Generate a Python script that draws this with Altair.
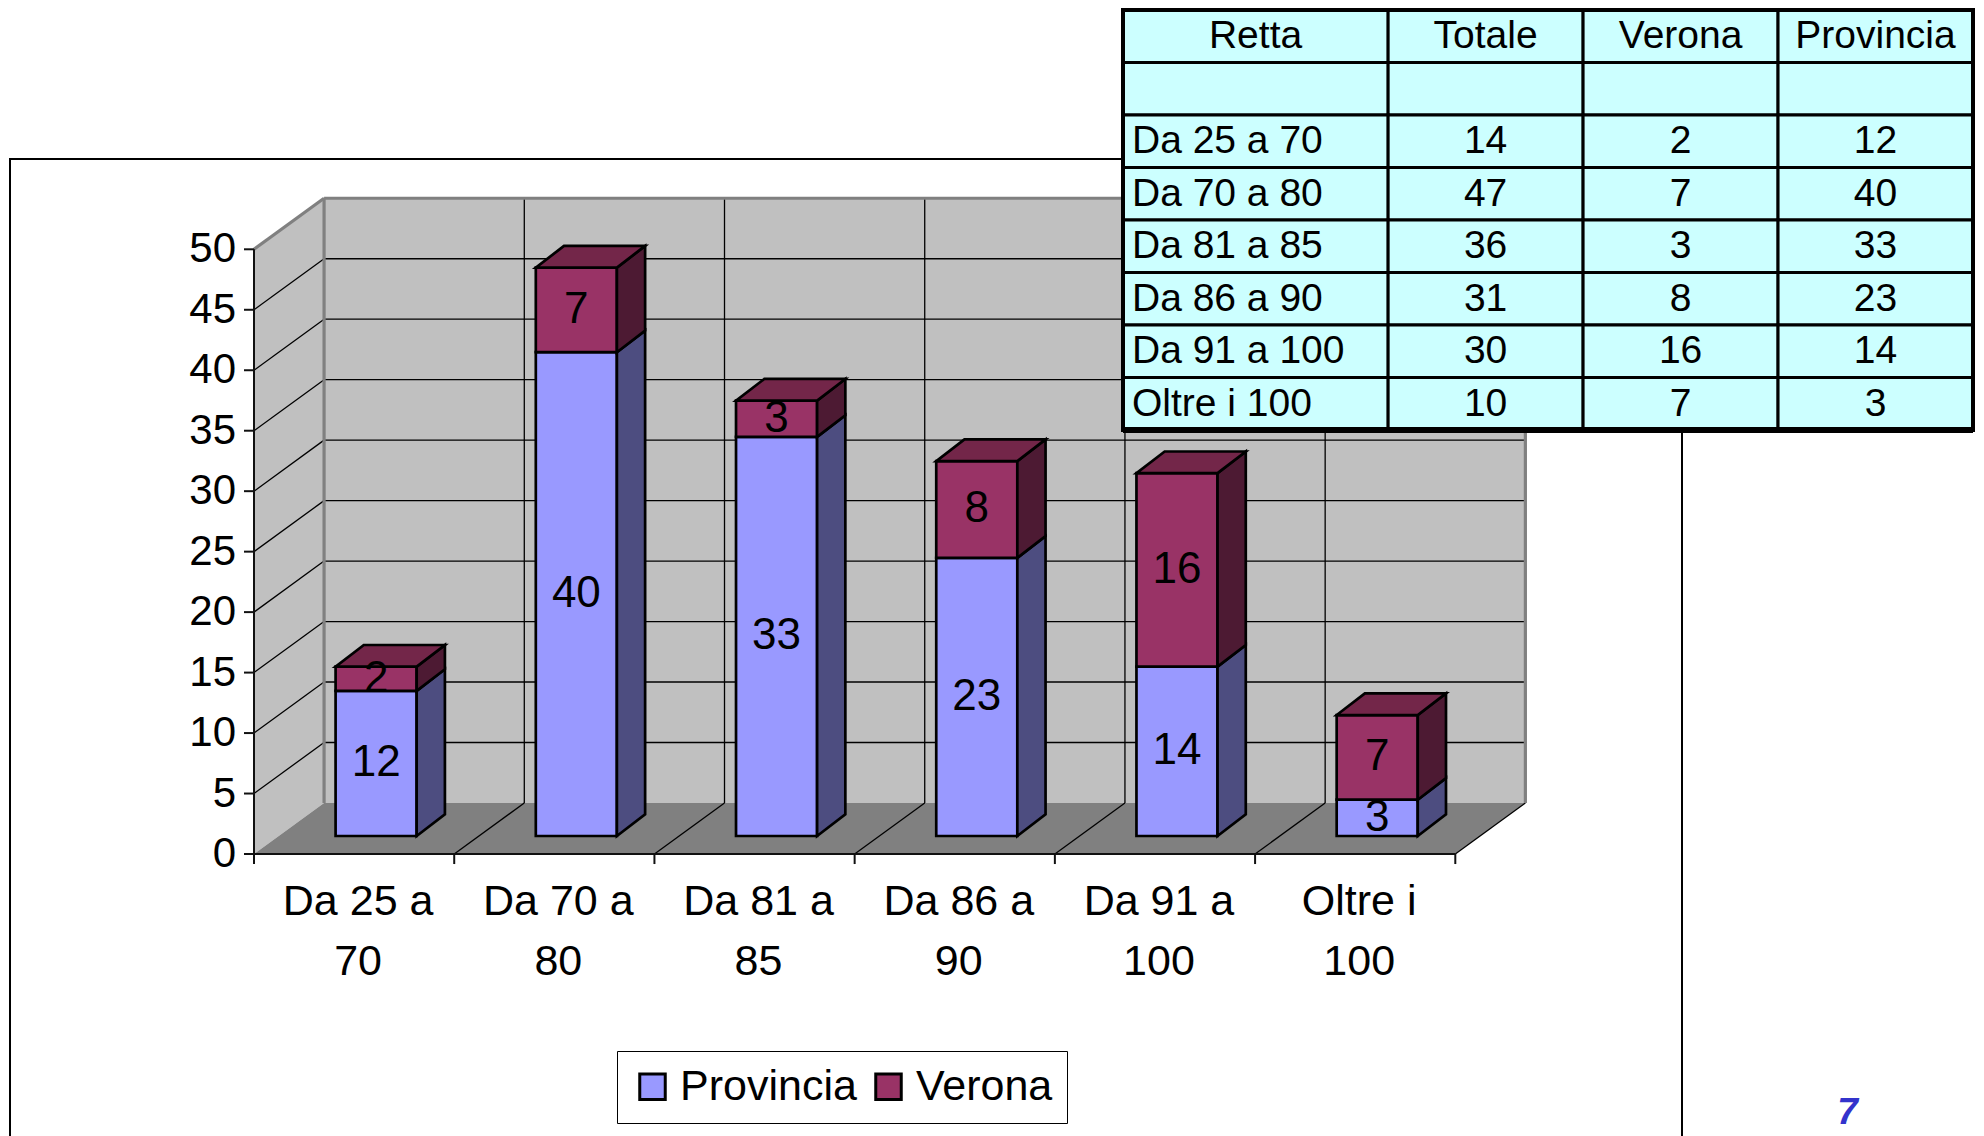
import altair as alt
import pandas as pd

# ---------------- data ----------------
categories = ["Da 25 a 70", "Da 70 a 80", "Da 81 a 85", "Da 86 a 90", "Da 91 a 100", "Oltre i 100"]
provincia = [12, 40, 33, 23, 14, 3]
verona = [2, 7, 3, 8, 16, 7]
totale = [14, 47, 36, 31, 30, 10]
series_names = ["Provincia", "Verona"]
table_header = ["Retta", "Totale", "Verona", "Provincia"]
y_ticks = [0, 5, 10, 15, 20, 25, 30, 35, 40, 45, 50]
page_number = "7"

# ---------------- layout / style ----------------
W, H = 1968, 1128
FONT = "Liberation Sans"
XS = alt.Scale(domain=[0, 6], range=[246, 1447.3], nice=False, zero=False)
YS = alt.Scale(domain=[0, 50], range=[846, 241.3], nice=False, zero=False)
DX, DY = 0.35, 4.22          # depth of the 3D box (category units, value units)
F0 = 0.353                   # depth fraction of bar front plane
BDX, BDY = 0.141, 1.79       # depth of each bar
BAR_C, BAR_HW = 0.61, 0.2025
YB = F0 * DY
TICK_X, TICK_Y = 0.05, 0.83

FRONT = {"Provincia": "#9999ff", "Verona": "#993366"}
SIDE = {"Provincia": "#4d4d80", "Verona": "#4d1a33"}
TOP = {"Provincia": "#7373bf", "Verona": "#732649"}


def X(f, **k):
    return alt.X(f, type="quantitative", scale=XS, axis=None, **k)


def Y(f, **k):
    return alt.Y(f, type="quantitative", scale=YS, axis=None, **k)


one = pd.DataFrame({"a": [0]})

# chart border (decoration)
border = alt.Chart(one).mark_rect(fillOpacity=0, stroke="black", strokeWidth=2).encode(
    x=alt.value(2), x2=alt.value(1674), y=alt.value(151), y2=alt.value(1160))

# walls and floor
back = alt.Chart(pd.DataFrame([{"x": DX, "x2": 6 + DX, "y": DY, "y2": 50 + DY}])).mark_rect(
    color="#c0c0c0").encode(x=X("x"), x2="x2", y=Y("y"), y2="y2")
left = alt.Chart(pd.DataFrame([{"x": 0, "y": 0, "y2": 50}, {"x": DX, "y": DY, "y2": 50 + DY}])).mark_area(
    color="#c0c0c0").encode(x=X("x"), y=Y("y"), y2="y2")
floor = alt.Chart(pd.DataFrame([{"y": 0, "x": 0, "x2": 6}, {"y": DY, "x": DX, "x2": 6 + DX}])).mark_area(
    color="#808080", orient="horizontal").encode(y=Y("y"), x=X("x"), x2="x2")

grid_rows = []
for v in y_ticks[1:-1]:
    grid_rows.append({"x": DX, "y": v + DY, "x2": 6 + DX, "y2": v + DY})
    grid_rows.append({"x": 0, "y": v, "x2": DX, "y2": v + DY})
for k in range(1, 6):
    grid_rows.append({"x": k + DX, "y": DY, "x2": k + DX, "y2": 50 + DY})
    grid_rows.append({"x": k, "y": 0, "x2": k + DX, "y2": DY})
grid_rows.append({"x": 6, "y": 0, "x2": 6 + DX, "y2": DY})
grid = alt.Chart(pd.DataFrame(grid_rows)).mark_rule(color="#000000", strokeWidth=1.3).encode(
    x=X("x"), y=Y("y"), x2="x2", y2="y2")

edge_rows = [
    {"x": DX, "y": DY, "x2": DX, "y2": 50 + DY},
    {"x": DX, "y": 50 + DY, "x2": 6 + DX, "y2": 50 + DY},
    {"x": 6 + DX, "y": DY, "x2": 6 + DX, "y2": 50 + DY},
    {"x": 0, "y": 50, "x2": DX, "y2": 50 + DY},
]
edges = alt.Chart(pd.DataFrame(edge_rows)).mark_rule(color="#808080", strokeWidth=3.2).encode(
    x=X("x"), y=Y("y"), x2="x2", y2="y2")

axis_rows = [{"x": 0, "y": 0, "x2": 0, "y2": 50}, {"x": 0, "y": 0, "x2": 6, "y2": 0}]
for v in y_ticks:
    axis_rows.append({"x": 0, "y": v, "x2": -TICK_X, "y2": v})
for k in range(7):
    axis_rows.append({"x": k, "y": 0, "x2": k, "y2": -TICK_Y})
axes = alt.Chart(pd.DataFrame(axis_rows)).mark_rule(color="#111111", strokeWidth=2).encode(
    x=X("x"), y=Y("y"), x2="x2", y2="y2")

# bars
front_rows, side_rows, top_rows, label_rows = [], [], [], []
for i, cat in enumerate(categories):
    segs = [("Provincia", 0, provincia[i]), ("Verona", provincia[i], provincia[i] + verona[i])]
    xl, xr = i + BAR_C - BAR_HW, i + BAR_C + BAR_HW
    for s, b, t in segs:
        yb, yt = YB + b, YB + t
        front_rows.append({"series": s, "x": xl, "x2": xr, "y": yb, "y2": yt})
        sid = f"{i}-{s}"
        side_rows.append({"id": sid, "fill": SIDE[s], "x": xr, "y": yb, "y2": yt})
        side_rows.append({"id": sid, "fill": SIDE[s], "x": xr + BDX, "y": yb + BDY, "y2": yt + BDY})
        label_rows.append({"x": i + BAR_C, "y": (yb + yt) / 2, "t": str(t - b)})
    s, b, t = segs[-1]
    yt = YB + t
    top_rows.append({"id": str(i), "fill": TOP[s], "y": yt, "x": xl, "x2": xr})
    top_rows.append({"id": str(i), "fill": TOP[s], "y": yt + BDY, "x": xl + BDX, "x2": xr + BDX})

fronts = alt.Chart(pd.DataFrame(front_rows)).mark_rect(stroke="black", strokeWidth=2.7).encode(
    x=X("x"), x2="x2", y=Y("y"), y2="y2",
    color=alt.Color("series:N",
                    scale=alt.Scale(domain=series_names, range=[FRONT[s] for s in series_names]),
                    legend=alt.Legend(orient="none", legendX=609, legendY=1043, direction="horizontal",
                                      title=None, symbolType="square", symbolSize=650,
                                      symbolStrokeColor="black", symbolStrokeWidth=3,
                                      symbolOpacity=1, labelFontSize=43, labelFont=FONT,
                                      labelColor="black", strokeColor="black", fillColor="white",
                                      padding=14, labelOffset=6, columnPadding=10, labelLimit=0)))
sides = alt.Chart(pd.DataFrame(side_rows)).mark_area(stroke="black", strokeWidth=2.7).encode(
    x=X("x"), y=Y("y"), y2="y2", detail="id:N", color=alt.Color("fill:N", scale=None))
tops = alt.Chart(pd.DataFrame(top_rows)).mark_area(stroke="black", strokeWidth=2.7, orient="horizontal").encode(
    y=Y("y"), x=X("x"), x2="x2", detail="id:N", color=alt.Color("fill:N", scale=None))
labels = alt.Chart(pd.DataFrame(label_rows)).mark_text(
    font=FONT, fontSize=44, color="black", align="center", baseline="middle").encode(
    x=X("x"), y=Y("y"), text="t:N")

# axis labels
ylab = alt.Chart(pd.DataFrame({"v": y_ticks, "t": [str(v) for v in y_ticks]})).mark_text(
    font=FONT, fontSize=42, color="black", align="right", baseline="middle").encode(
    x=alt.value(228), y=Y("v"), text="t:N")
xl_rows = [{"x": i + 0.52, "t": c.rsplit(" ", 1)[0] + "\n" + c.rsplit(" ", 1)[1]} for i, c in enumerate(categories)]
xlab = alt.Chart(pd.DataFrame(xl_rows)).mark_text(
    font=FONT, fontSize=43, color="black", align="center", baseline="alphabetic",
    lineBreak="\n", lineHeight=60).encode(x=X("x"), y=alt.value(907), text="t:N")

pnum = alt.Chart(pd.DataFrame({"t": [page_number]})).mark_text(
    font=FONT, fontSize=37, fontWeight="bold", fontStyle="italic", color="#3333cc",
    align="center", baseline="middle").encode(x=alt.value(1839.5), y=alt.value(1105), text="t:N")

chart_group = alt.layer(border, back, left, floor, grid, edges, axes, fronts, sides, tops, labels,
                        ylab, xlab, pnum)

# ---------------- table ----------------
col_w = [1.36, 1, 1, 1]
col_edges = [0]
for w in col_w:
    col_edges.append(col_edges[-1] + w)
n_rows = 2 + len(categories)
TXS = alt.Scale(domain=[0, col_edges[-1]], range=[1115, 1965], nice=False, zero=False)
TYS = alt.Scale(domain=[0, n_rows], range=[2, 422], nice=False, zero=False)


def TX(f):
    return alt.X(f, type="quantitative", scale=TXS, axis=None)


def TY(f):
    return alt.Y(f, type="quantitative", scale=TYS, axis=None)


cell_rows = [{"x": col_edges[c], "x2": col_edges[c + 1], "y": r, "y2": r + 1}
             for r in range(n_rows) for c in range(4)]
cells = alt.Chart(pd.DataFrame(cell_rows)).mark_rect(fill="#ccffff", stroke="black", strokeWidth=3).encode(
    x=TX("x"), x2="x2", y=TY("y"), y2="y2")
outer = alt.Chart(pd.DataFrame([{"x": 0, "x2": col_edges[-1], "y": 0, "y2": n_rows}])).mark_rect(
    fillOpacity=0, stroke="black", strokeWidth=4).encode(x=TX("x"), x2="x2", y=TY("y"), y2="y2")
bottom = alt.Chart(pd.DataFrame([{"x": 0, "x2": col_edges[-1], "y": n_rows}])).mark_rule(
    color="black", strokeWidth=6).encode(x=TX("x"), x2="x2", y=TY("y"))

center_rows, left_rows = [], []
for c, h in enumerate(table_header):
    center_rows.append({"x": (col_edges[c] + col_edges[c + 1]) / 2, "y": 0.5, "t": h})
for i, cat in enumerate(categories):
    r = 2 + i + 0.5
    left_rows.append({"x": 0.046, "y": r, "t": cat})
    for c, val in zip([1, 2, 3], [totale[i], verona[i], provincia[i]]):
        center_rows.append({"x": (col_edges[c] + col_edges[c + 1]) / 2, "y": r, "t": str(val)})
tcenter = alt.Chart(pd.DataFrame(center_rows)).mark_text(
    font=FONT, fontSize=39, color="black", align="center", baseline="middle").encode(
    x=TX("x"), y=TY("y"), text="t:N")
tleft = alt.Chart(pd.DataFrame(left_rows)).mark_text(
    font=FONT, fontSize=39, color="black", align="left", baseline="middle").encode(
    x=TX("x"), y=TY("y"), text="t:N")

table_group = alt.layer(cells, outer, bottom, tcenter, tleft)

chart = alt.layer(chart_group, table_group).resolve_scale(
    x="independent", y="independent").properties(
    width=W, height=H, autosize=alt.AutoSizeParams(type="none"), padding=0,
    background="white").configure_view(strokeWidth=0)

chart.save("out.html", embed_options={"renderer": "svg", "actions": False})
